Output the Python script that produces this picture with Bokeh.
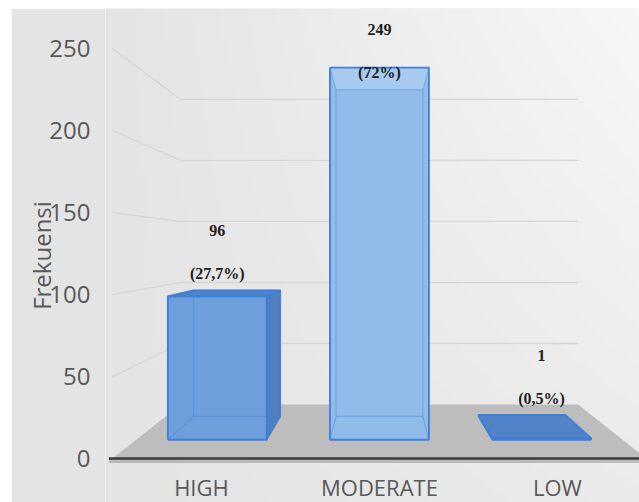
import numpy as np
from bokeh.plotting import figure
from bokeh.models import FixedTicker, ColumnDataSource
from bokeh.core.properties import value
from bokeh.embed import file_html
from bokeh.resources import INLINE

# ---- data ----
categories = ["HIGH", "MODERATE", "LOW"]
counts = [96, 249, 1]
percent_labels = ["(27,7%)", "(72%)", "(0,5%)"]
y_ticks = [0, 50, 100, 150, 200, 250]

# ---- style / perspective parameters ----
XV = 1.0          # vanishing point x (category units)
YV = 128.7        # eye level (value units)
S_BAR_FRONT = 0.911
S_BAR_BACK = 0.80
S_WALL = 0.744
HALF_W = 0.305
X_LEFT, X_RIGHT = -0.5, 2.5
X_RANGE = (-0.539, 2.461)
Y_RANGE = (-26.8, 274.4)

front_fill = ["#6c9fdc", "#8fbce9", "#5a8ad0"]
top_fill = "#5183c6"
side_fill = "#4f7fbd"
edge_col = "#3f7fd8"


def proj(x, y, s):
    return XV + (x - XV) * s, YV + (y - YV) * s


p = figure(width=628, height=494, margin=(8, 0, 0, 11),
           x_range=X_RANGE, y_range=Y_RANGE,
           output_backend="svg", toolbar_location=None,
           min_border_left=94, min_border_right=0, min_border_top=0, min_border_bottom=0,
           x_axis_location=None)
p.xgrid.visible = False
p.ygrid.visible = False
p.outline_line_color = None
p.border_fill_color = "#e4e4e4"
p.background_fill_color = "#ececec"

# background gradient (decoration)
H, W = 60, 120
img = np.empty((H, W), dtype=np.uint32)
view = img.view(dtype=np.uint8).reshape((H, W, 4))
tx = np.linspace(0, 1, W)[None, :]
fb = np.linspace(0, 1, H)[:, None]
shade = (0xe4 + (0xf7 - 0xe4) * tx * (0.35 + 0.65 * fb)).astype(np.uint8)
view[..., 0] = shade
view[..., 1] = shade
view[..., 2] = shade
view[..., 3] = 255
p.image_rgba(image=[img], x=X_RANGE[0], y=Y_RANGE[0],
             dw=X_RANGE[1] - X_RANGE[0], dh=Y_RANGE[1] - Y_RANGE[0], level="image")

# floor
fx, fy = [], []
for (x, s) in [(X_LEFT, 1.0), (X_RIGHT, 1.0), (X_RIGHT, S_WALL), (X_LEFT, S_WALL)]:
    a, b = proj(x, 0, s)
    fx.append(a)
    fy.append(b)
p.patch(fx, fy, fill_color="#bdbdbd", line_color=None)

# gridlines (side wall + back wall)
gxs, gys = [], []
for t in y_ticks[1:]:
    pts = [proj(X_LEFT, t, 1.0), proj(X_LEFT, t, S_WALL), proj(X_RIGHT, t, S_WALL)]
    gxs.append([q[0] for q in pts])
    gys.append([q[1] for q in pts])
p.multi_line(gxs, gys, line_color="#d6d6d6", line_width=1.3)

# front axis line
ax0 = proj(X_LEFT - 0.02, 0, 1.0)
ax1 = proj(X_RIGHT, 0, 1.0)
p.line([ax0[0], ax1[0]], [ax0[1] - 1.2, ax1[1] - 1.2], line_color="#9a9a9a", line_width=5, line_alpha=0.6)
p.line([ax0[0], ax1[0]], [ax0[1], ax1[1]], line_color="#3a3a3a", line_width=2.5)

# bars
for i, v in enumerate(counts):
    xl, xr = i - HALF_W, i + HALF_W
    F = {k: proj(xx, yy, S_BAR_FRONT) for k, (xx, yy) in
         {"lb": (xl, 0), "rb": (xr, 0), "rt": (xr, v), "lt": (xl, v)}.items()}
    B = {k: proj(xx, yy, S_BAR_BACK) for k, (xx, yy) in
         {"lb": (xl, 0), "rb": (xr, 0), "rt": (xr, v), "lt": (xl, v)}.items()}

    def face(pts):
        return [q[0] for q in pts], [q[1] for q in pts]

    # front face
    x_, y_ = face([F["lb"], F["rb"], F["rt"], F["lt"]])
    p.patch(x_, y_, fill_color=front_fill[i], line_color=None)

    # hidden edges seen through the translucent bar
    hx, hy = [], []
    for a, b in [("lb", "rb"), ("rb", "rt"), ("rt", "lt"), ("lt", "lb")]:
        hx.append([B[a][0], B[b][0]]); hy.append([B[a][1], B[b][1]])
    for k in ["lb", "rb", "rt", "lt"]:
        hx.append([F[k][0], B[k][0]]); hy.append([F[k][1], B[k][1]])
    p.multi_line(hx, hy, line_color="#4d89d8", line_alpha=0.45, line_width=1.2)

    # interior band seen through front (top band when above eye level)
    if v > YV:
        x_, y_ = face([F["lt"], F["rt"], B["rt"], B["lt"]])
        p.patch(x_, y_, fill_color="#ffffff", fill_alpha=0.22, line_color=None)

    # visible side face
    if i < XV:
        x_, y_ = face([F["rb"], B["rb"], B["rt"], F["rt"]])
        p.patch(x_, y_, fill_color=side_fill, line_color=edge_col, line_width=1.2, line_alpha=0.8)
    elif i > XV:
        x_, y_ = face([F["lb"], B["lb"], B["lt"], F["lt"]])
        p.patch(x_, y_, fill_color=side_fill, line_color=edge_col, line_width=1.2, line_alpha=0.8)

    # visible top face
    if v < YV:
        x_, y_ = face([F["lt"], F["rt"], B["rt"], B["lt"]])
        p.patch(x_, y_, fill_color=top_fill, line_color=edge_col, line_width=1.8)

    # front outline
    x_, y_ = face([F["lb"], F["rb"], F["rt"], F["lt"], F["lb"]])
    p.line(x_, y_, line_color=edge_col, line_width=1.8)

# value labels
lab_x = [proj(i, counts[i], S_BAR_FRONT)[0] for i in range(len(counts))]
lab_y = [proj(i, counts[i], S_BAR_BACK)[1] for i in range(len(counts))]
lsrc = ColumnDataSource(dict(x=lab_x, y=lab_y,
                             n=[str(c) for c in counts], pc=percent_labels))
p.text(x="x", y="y", text="n", source=lsrc, y_offset=-60,
       text_font=value("Liberation Serif"), text_font_style="bold",
       text_font_size="16px", text_color="#1e1e1e",
       text_align="center", text_baseline="middle")
p.text(x="x", y="y", text="pc", source=lsrc, y_offset=-17,
       text_font=value("Liberation Serif"), text_font_style="bold",
       text_font_size="16px", text_color="#1e1e1e",
       text_align="center", text_baseline="middle")

# category labels along the front edge
csrc = ColumnDataSource(dict(x=list(range(len(categories))), y=[0] * len(categories), t=categories))
p.text(x="x", y="y", text="t", source=csrc, y_offset=13,
       text_font=value("Open Sans"), text_font_size="22px", text_color="#595959",
       text_align="center", text_baseline="top")

# y axis
p.yaxis.ticker = FixedTicker(ticks=y_ticks)
p.yaxis.axis_line_color = None
p.yaxis.major_tick_line_color = None
p.yaxis.minor_tick_line_color = None
p.yaxis.major_tick_out = 0
p.yaxis.major_label_standoff = 15
p.yaxis.major_label_text_font = "Open Sans"
p.yaxis.major_label_text_font_size = "24px"
p.yaxis.major_label_text_color = "#595959"
p.yaxis.axis_label = "Frekuensi"
p.yaxis.axis_label_text_font = "Open Sans"
p.yaxis.axis_label_text_font_style = "normal"
p.yaxis.axis_label_text_font_size = "24px"
p.yaxis.axis_label_text_color = "#595959"
p.yaxis.axis_label_standoff = -12

open("out.html", "w").write(file_html(p, INLINE))
